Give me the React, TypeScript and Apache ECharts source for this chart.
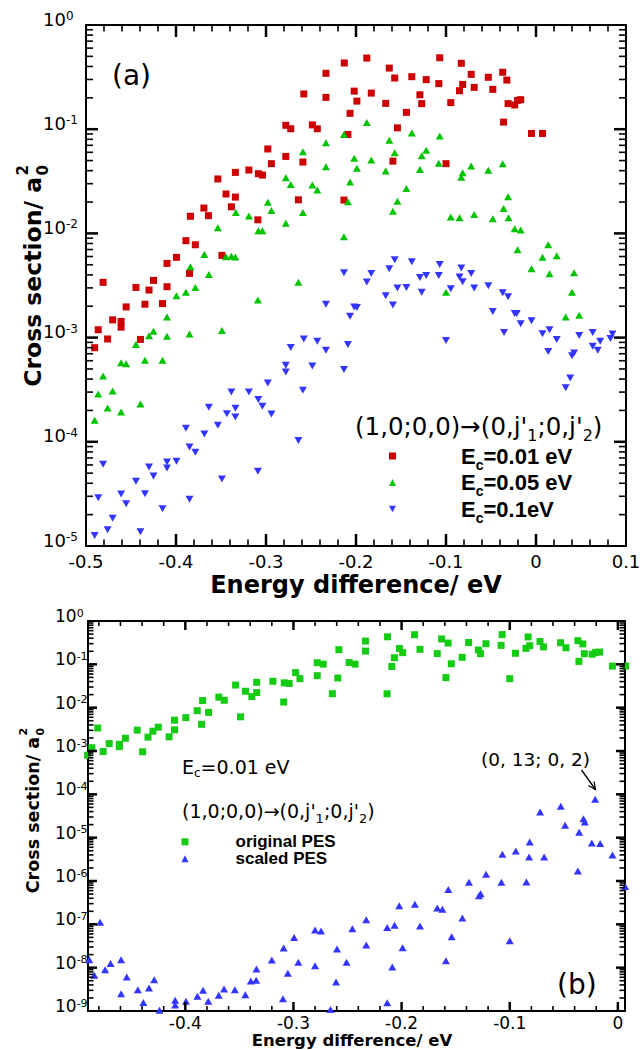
import React, { useEffect, useRef } from "react";
import * as echarts from "echarts";

// ---------- data: (energy difference / eV, cross section / a0^2) ----------
const ec001: [number, number][] = [
  [-0.4904, 8.0e-4], [-0.4864, 1.19e-3], [-0.481, 3.39e-3], [-0.476, 9.7e-4], [-0.4704, 1.48e-3],
  [-0.461, 1.43e-3], [-0.461, 1.26e-3], [-0.4554, 1.97e-3], [-0.4445, 3.03e-3], [-0.4395, 9.6e-4],
  [-0.4345, 2.09e-3], [-0.43, 2.86e-3], [-0.425, 3.54e-3], [-0.415, 2.12e-3], [-0.41, 3.08e-3],
  [-0.41, 5.15e-3], [-0.3995, 5.89e-3], [-0.389, 8.51e-3], [-0.385, 4.13e-3], [-0.384, 1.46e-2],
  [-0.3785, 7.78e-3], [-0.369, 1.75e-2], [-0.364, 1.48e-2], [-0.3535, 3.33e-2], [-0.349, 6.15e-3],
  [-0.3444, 2.39e-2], [-0.3385, 1.8e-2], [-0.334, 2.23e-2], [-0.334, 3.85e-2], [-0.319, 4.06e-2],
  [-0.309, 1.35e-2], [-0.3085, 3.74e-2], [-0.304, 3.63e-2], [-0.298, 6.46e-2], [-0.294, 4.67e-2],
  [-0.278, 0.109], [-0.278, 5.48e-2], [-0.2725, 0.101], [-0.264, 2.1e-2], [-0.259, 4.84e-2],
  [-0.258, 0.218], [-0.2485, 0.11], [-0.243, 0.101], [-0.2334, 0.344], [-0.2334, 0.202],
  [-0.2134, 2.09e-2], [-0.213, 0.432], [-0.209, 8.9e-2], [-0.2066, 0.142], [-0.202, 0.232],
  [-0.199, 0.186], [-0.188, 0.482], [-0.183, 0.222], [-0.167, 0.177], [-0.163, 0.386],
  [-0.159, 4.94e-2], [-0.157, 0.31], [-0.154, 0.103], [-0.144, 0.145], [-0.138, 0.319],
  [-0.129, 0.214], [-0.127, 0.176], [-0.122, 0.299], [-0.108, 0.274], [-0.107, 0.485],
  [-0.1, 4.67e-2], [-0.0947, 0.18], [-0.085, 0.234], [-0.083, 0.429], [-0.0815, 0.269],
  [-0.072, 0.336], [-0.0687, 0.252], [-0.053, 0.315], [-0.048, 0.241], [-0.037, 0.352],
  [-0.036, 0.117], [-0.0324, 0.296], [-0.031, 0.176], [-0.0237, 0.171], [-0.0205, 0.189],
  [-0.017, 0.192], [-0.005, 9.1e-2], [0.0072, 9.1e-2],
];

const ec005: [number, number][] = [
  [-0.4904, 1.61e-4], [-0.4864, 2.88e-4], [-0.481, 4.29e-4], [-0.476, 2.11e-4], [-0.4704, 3.08e-4],
  [-0.461, 1.93e-4], [-0.461, 5.75e-4], [-0.4554, 5.62e-4], [-0.4445, 8.57e-4], [-0.4395, 2.31e-4],
  [-0.4345, 6.05e-4], [-0.43, 1.04e-3], [-0.425, 1.15e-3], [-0.415, 6.05e-4], [-0.41, 1.58e-3],
  [-0.41, 1.03e-3], [-0.3995, 2.52e-3], [-0.389, 2.72e-3], [-0.385, 1.08e-3], [-0.384, 4.79e-3],
  [-0.3785, 3.03e-3], [-0.3685, 6.28e-3], [-0.3635, 4.04e-3], [-0.3535, 1.13e-2], [-0.349, 1.17e-3],
  [-0.3444, 5.97e-3], [-0.3385, 6.05e-3], [-0.334, 5.93e-3], [-0.3335, 1.59e-2], [-0.319, 1.47e-2],
  [-0.309, 2.29e-3], [-0.3085, 1.06e-2], [-0.304, 1.06e-2], [-0.298, 1.99e-2], [-0.294, 1.66e-2],
  [-0.278, 3.42e-2], [-0.278, 1.25e-2], [-0.2725, 2.95e-2], [-0.264, 3.39e-3], [-0.259, 6.08e-2],
  [-0.259, 1.59e-2], [-0.2485, 2.91e-2], [-0.243, 2.61e-2], [-0.2334, 7.41e-2], [-0.2334, 4.37e-2],
  [-0.2134, 8.9e-2], [-0.2134, 9.3e-3], [-0.209, 2.01e-2], [-0.2066, 3.11e-2], [-0.202, 5.25e-2],
  [-0.199, 4.21e-2], [-0.188, 0.116], [-0.183, 5.06e-2], [-0.167, 3.96e-2], [-0.163, 7.82e-2],
  [-0.159, 1.63e-2], [-0.157, 5.94e-2], [-0.154, 2.04e-2], [-0.144, 2.69e-2], [-0.138, 9.2e-2],
  [-0.129, 4.11e-2], [-0.127, 5.57e-2], [-0.122, 6.27e-2], [-0.108, 4.7e-2], [-0.107, 8.6e-2],
  [-0.1, 2.72e-3], [-0.0947, 1.44e-2], [-0.085, 1.41e-2], [-0.083, 3.45e-2], [-0.0815, 3.82e-2],
  [-0.072, 4.43e-2], [-0.0687, 1.52e-2], [-0.053, 4.03e-2], [-0.048, 1.38e-2], [-0.037, 4.67e-2],
  [-0.036, 1.73e-2], [-0.031, 2.25e-2], [-0.0305, 1.41e-2], [-0.0237, 1.11e-2], [-0.0205, 6.97e-3],
  [-0.017, 1.08e-2], [-0.005, 4.58e-3], [0.0072, 5.89e-3], [0.0136, 7.78e-3], [0.015, 4.1e-3],
  [0.023, 6.11e-3], [0.033, 1.58e-3], [0.04, 2.72e-3], [0.0423, 4.19e-3], [0.048, 1.64e-3],
];

const ec01: [number, number][] = [
  [-0.2134, 4.19e-3], [-0.188, 3.41e-3], [-0.183, 4.13e-3], [-0.167, 2.52e-3], [-0.163, 4.58e-3],
  [-0.157, 5.58e-3], [-0.154, 2.99e-3], [-0.144, 3.03e-3], [-0.138, 5.35e-3], [-0.129, 3.78e-3],
  [-0.127, 2.72e-3], [-0.122, 3.95e-3], [-0.108, 3.95e-3], [-0.107, 5.04e-3], [-0.0947, 2.94e-3],
  [-0.083, 4.65e-3], [-0.0815, 3.44e-3], [-0.085, 3.81e-3], [-0.072, 4.13e-3], [-0.0687, 2.99e-3],
  [-0.053, 3.15e-3], [-0.037, 2.69e-3], [-0.031, 2.47e-3],
  [-0.4904, 1.26e-5], [-0.481, 6.08e-5], [-0.4864, 2.91e-5], [-0.476, 1.43e-5], [-0.4704, 1.85e-5],
  [-0.461, 3.16e-5], [-0.4554, 2.55e-5], [-0.4445, 4.18e-5], [-0.4395, 1.37e-5], [-0.4345, 3.18e-5],
  [-0.43, 5.73e-5], [-0.425, 4.7e-5], [-0.415, 2.28e-5], [-0.41, 6.4e-5], [-0.41, 5.61e-5],
  [-0.3995, 6.5e-5], [-0.389, 1.35e-4], [-0.385, 8.91e-5], [-0.385, 2.81e-5], [-0.3785, 7.93e-5],
  [-0.3685, 1.19e-4], [-0.3635, 2.14e-4], [-0.3535, 1.44e-4], [-0.349, 4.4e-5], [-0.3435, 1.86e-4],
  [-0.3385, 3.01e-4], [-0.334, 2.1e-4], [-0.334, 1.73e-4], [-0.319, 3.01e-4], [-0.3085, 2.54e-4],
  [-0.304, 2.19e-4], [-0.309, 5.21e-5], [-0.298, 3.67e-4], [-0.294, 1.85e-4], [-0.278, 5.42e-4],
  [-0.278, 4.68e-4], [-0.2725, 8.02e-4], [-0.264, 1.03e-4], [-0.259, 3.12e-4], [-0.258, 9.7e-4],
  [-0.2485, 5.35e-4], [-0.243, 9.2e-4], [-0.2334, 7.55e-4], [-0.2334, 2.09e-3], [-0.2134, 4.93e-4],
  [-0.209, 8.6e-4], [-0.2066, 1.6e-3], [-0.202, 1.97e-3], [-0.199, 1.94e-3], [-0.159, 2.06e-3],
  [-0.1, 9.4e-4], [-0.048, 1.78e-3], [-0.0355, 1.12e-3], [-0.0237, 1.7e-3], [-0.0214, 1.7e-3],
  [-0.017, 1.36e-3], [-0.005, 1.45e-3], [0.0072, 1.09e-3], [0.0136, 7.35e-4], [0.015, 1.19e-3],
  [0.023, 9.6e-4], [0.033, 3.31e-4], [0.038, 4.1e-4], [0.04, 6.71e-4], [0.0423, 7.13e-4],
  [0.048, 1.05e-3], [0.063, 1.12e-3], [0.063, 8.26e-4], [0.0686, 7.55e-4], [0.0713, 9.2e-4],
  [0.0827, 9.8e-4], [0.085, 1.08e-3],
];

// panel (b): original PES is the Ec = 0.01 eV set of panel (a)
const originalPES = ec001;
const scaledPES: [number, number][] = [
  [-0.4888, 1.53e-8], [-0.4788, 1.11e-7], [-0.4842, 6.65e-9], [-0.4742, 9.0e-9], [-0.4691, 1.24e-8],
  [-0.4594, 1.53e-8], [-0.4594, 2.51e-9], [-0.4542, 6.1e-9], [-0.4439, 3.1e-9], [-0.4388, 1.58e-9],
  [-0.4336, 3.4e-9], [-0.4288, 5.28e-9], [-0.4239, 1.04e-9], [-0.4094, 1.76e-9], [-0.4094, 1.37e-9],
  [-0.3994, 1.67e-9], [-0.3888, 2.18e-9], [-0.3836, 3.0e-9], [-0.3788, 1.67e-9], [-0.3691, 2.3e-9],
  [-0.3642, 3.22e-9], [-0.3542, 3.1e-9], [-0.3445, 2.38e-9], [-0.3394, 4.92e-9], [-0.3345, 5.1e-9],
  [-0.3342, 9.3e-9], [-0.32, 1.5e-8], [-0.3097, 1.93e-9], [-0.3091, 2.84e-8], [-0.3052, 7.4e-9],
  [-0.2994, 5.0e-8], [-0.2955, 1.33e-8], [-0.28, 7.4e-8], [-0.28, 1.11e-8], [-0.2745, 7.0e-8],
  [-0.2658, 1.09e-9], [-0.2606, 4.67e-9], [-0.2597, 2.7e-8], [-0.2509, 1.33e-8], [-0.2455, 7.9e-8],
  [-0.2327, 1.28e-7], [-0.2327, 3.33e-8], [-0.2133, 8.5e-8], [-0.2086, 1.04e-8], [-0.2065, 9.5e-8],
  [-0.2022, 2.7e-7], [-0.1991, 2.9e-8], [-0.2133, 1.56e-9], [-0.1877, 2.9e-7], [-0.183, 9.2e-8],
  [-0.167, 2.38e-7], [-0.1623, 2.22e-7], [-0.1568, 6.4e-7], [-0.1537, 5.2e-8], [-0.159, 1.45e-8],
  [-0.1438, 1.4e-7], [-0.1377, 9.3e-7], [-0.1284, 4.59e-7], [-0.1269, 5.1e-7], [-0.1219, 1.43e-6],
  [-0.1077, 9.3e-7], [-0.1068, 4.12e-6], [-0.1, 4.2e-8], [-0.0944, 4.92e-6], [-0.0846, 9.5e-7],
  [-0.0821, 3.58e-6], [-0.0815, 7.9e-6], [-0.0719, 3.91e-5], [-0.0682, 3.58e-6], [-0.0528, 5.28e-5],
  [-0.0488, 1.93e-5], [-0.037, 1.7e-6], [-0.0358, 1.33e-5], [-0.0318, 2.74e-5], [-0.0306, 2.3e-5],
  [-0.0241, 7.5e-6], [-0.021, 7.7e-5], [-0.0164, 7.3e-6], [-0.005, 3.98e-6], [0.0068, 7.5e-7],
];

// tick positions
const xMajorA = [-0.4, -0.3, -0.2, -0.1, 0];
const xMinorA = [
  -0.48, -0.46, -0.44, -0.42, -0.38, -0.36, -0.34, -0.32, -0.28, -0.26, -0.24, -0.22,
  -0.18, -0.16, -0.14, -0.12, -0.08, -0.06, -0.04, -0.02, 0.02, 0.04, 0.06, 0.08,
];
const xMajorB = [-0.4, -0.3, -0.2, -0.1, 0];
const xMinorB = [
  -0.48, -0.46, -0.44, -0.42, -0.38, -0.36, -0.34, -0.32, -0.28, -0.26,
  -0.24, -0.22, -0.18, -0.16, -0.14, -0.12, -0.08, -0.06, -0.04, -0.02,
];

// ---------- styling ----------
const BLACK = "#000";
const RED = "#cc0000";
const GREEN_A = "#00c400";
const GREEN_B = "#14cc14";
const BLUE = "#3434ff";
const DJ = "DejaVu Sans";
const AR = "Liberation Sans, Arial, sans-serif";

const X_RANGE_A: [number, number] = [-0.5, 0.1];
const X_RANGE_B: [number, number] = [-0.49, 0.0066];
const Y_RANGE_A: [number, number] = [1e-5, 1];
const Y_RANGE_B: [number, number] = [1e-9, 1];
const GRID_A = { left: 86, top: 25, width: 540, height: 521 };
const GRID_B = { left: 88, top: 621, width: 537, height: 390 };

function decades(lo: number): number[] {
  const out: number[] = [];
  for (let n = lo + 1; n < 0; n++) out.push(Number(`1e${n}`));
  return out;
}
function logMinor(lo: number): number[] {
  const out: number[] = [];
  for (let n = lo; n < 0; n++) for (let k = 2; k <= 9; k++) out.push(Number(`${k}e${n}`));
  return out;
}

const powLabel = (v: number) => `{b|10}{s|${Math.round(Math.log10(v))}}`;

// inside ticks on all four sides, drawn as thin rect symbols placed by the axes' own scales
function tickSeries(xi: number, yi: number, xr: [number, number], yr: [number, number],
  xMaj: number[], xMin: number[], yMaj: number[], yMin: number[], lens: number[]): any[] {
  const wMaj = 2.5, wMin = 1.6;
  const out: any[] = [];
  const mk = (data: number[][], size: number[], offset: number[]) =>
    out.push({
      type: "scatter", xAxisIndex: xi, yAxisIndex: yi, data, symbol: "rect",
      symbolSize: size, symbolOffset: offset, itemStyle: { color: BLACK, opacity: 1 },
      clip: false, silent: true, z: 4, legendHoverLink: false,
    });
  mk(xMaj.map((v) => [v, yr[0]]), [wMaj, lens[0]], [0, -lens[0] / 2]);
  mk(xMaj.map((v) => [v, yr[1]]), [wMaj, lens[0]], [0, lens[0] / 2]);
  mk(xMin.map((v) => [v, yr[0]]), [wMin, lens[1]], [0, -lens[1] / 2]);
  mk(xMin.map((v) => [v, yr[1]]), [wMin, lens[1]], [0, lens[1] / 2]);
  mk(yMaj.map((v) => [xr[0], v]), [lens[2], wMaj], [lens[2] / 2, 0]);
  mk(yMaj.map((v) => [xr[1], v]), [lens[2], wMaj], [-lens[2] / 2, 0]);
  mk(yMin.map((v) => [xr[0], v]), [lens[3], wMin], [lens[3] / 2, 0]);
  mk(yMin.map((v) => [xr[1], v]), [lens[3], wMin], [-lens[3] / 2, 0]);
  return out;
}

function buildOption(): any {
  const hidden = { show: false };
  const axLine = { show: true, onZero: false, lineStyle: { color: BLACK, width: 2 } };

  const richA = {
    b: { fontFamily: DJ, fontSize: 18, lineHeight: 30, verticalAlign: "top", color: BLACK },
    s: { fontFamily: DJ, fontSize: 12, lineHeight: 12, verticalAlign: "top", color: BLACK },
  };
  const richB = {
    b: { fontFamily: DJ, fontSize: 17, lineHeight: 27, verticalAlign: "top", color: BLACK },
    s: { fontFamily: DJ, fontSize: 11, lineHeight: 11, verticalAlign: "top", color: BLACK },
  };

  const scatter = (name: string, xi: number, yi: number, data: [number, number][], symbol: string,
    size: any, color: string, rotate = 0) => ({
    type: "scatter", name, xAxisIndex: xi, yAxisIndex: yi, data, symbol, symbolSize: size,
    symbolRotate: rotate, itemStyle: { color, opacity: 1 }, clip: false, silent: true, z: 3,
  });

  const legendA = {
    orient: "vertical", left: 389, top: 445, padding: 0, itemGap: 0, itemWidth: 7, itemHeight: 7,
    selectedMode: false, symbolRotate: 0,
    data: [
      { name: "Ec=0.01 eV", icon: "rect" },
      { name: "Ec=0.05 eV", icon: "triangle" },
      { name: "Ec=0.1eV", icon: "path://M0,0L10,0L5,9Z" },
    ],
    formatter: (n: string) => `{p|E}{c|c}{t|${n.slice(2)}}`,
    textStyle: {
      rich: {
        p: { fontFamily: AR, fontWeight: "bold", fontSize: 22, lineHeight: 22, verticalAlign: "top", padding: [0, 0, 0, 60], color: BLACK },
        t: { fontFamily: AR, fontWeight: "bold", fontSize: 22, lineHeight: 22, verticalAlign: "top", color: BLACK },
        c: { fontFamily: AR, fontWeight: "bold", fontSize: 14, lineHeight: 14, verticalAlign: "top", padding: [12.5, 0, 0, 0], color: BLACK },
      },
    },
  };
  const legendB = {
    orient: "vertical", left: 181.5, top: 833.3, padding: 0, itemGap: 0, itemWidth: 7, itemHeight: 7,
    selectedMode: false, symbolRotate: 0,
    data: [{ name: "original PES", icon: "rect" }, { name: "scaled PES", icon: "triangle" }],
    formatter: (n: string) => `{p|${n}}`,
    textStyle: {
      rich: { p: { fontFamily: AR, fontWeight: "bold", fontSize: 17, lineHeight: 20, padding: [0, 0, 0, 42], color: BLACK } },
    },
  };

  const txt = (x: number, y: number, text: string, size: number, extra: any = {}) => ({
    type: "text", x, y, silent: true,
    style: { text, fill: BLACK, fontFamily: DJ, fontSize: size, align: "left", verticalAlign: "middle", ...extra },
  });
  const subRich = (main: number, sub: number, lower: number) => ({
    m: { fontFamily: DJ, fontSize: main, lineHeight: main, verticalAlign: "top", fill: BLACK },
    s: {
      fontFamily: DJ, fontSize: sub, lineHeight: sub, verticalAlign: "top",
      padding: [lower + main / 2 - sub / 2, 0, 0, 0], fill: BLACK,
    },
  });
  const richText = (x: number, y: number, text: string, rich: any) => ({
    type: "text", x, y, silent: true, style: { text, rich, align: "left", verticalAlign: "middle" },
  });
  const yTitle = (x: number, y: number, size: number, small: number, subOff: number, supOff: number) => ({
    type: "group", x, y, rotation: Math.PI / 2, silent: true,
    children: [
      { type: "text", x: 0, y: 0, style: { text: "Cross section/ a", fill: BLACK, fontFamily: DJ, fontWeight: "bold", fontSize: size, align: "right", verticalAlign: "middle" } },
      { type: "text", x: 1.5, y: subOff, style: { text: "0", fill: BLACK, fontFamily: DJ, fontWeight: "bold", fontSize: small, align: "left", verticalAlign: "middle" } },
      { type: "text", x: 1.5, y: supOff, style: { text: "2", fill: BLACK, fontFamily: DJ, fontWeight: "bold", fontSize: small, align: "left", verticalAlign: "middle" } },
    ],
  });
  const transition = "{m|(1,0;0,0)\u2192(0,j'}{s|1}{m|;0,j'}{s|2}{m|)}";

  const graphic = [
    txt(112, 75, "(a)", 28),
    richText(355, 426.4, transition, subRich(24.5, 16, 9)),
    txt(356, 585, "Energy difference/ eV", 24, { fontWeight: "bold", align: "center" }),
    yTitle(33, 177, 23.5, 15, 9.5, -10.5),
    richText(182, 766.5, "{m|E}{s|c}{m|=0.01 eV}", subRich(19, 12, 6.5)),
    richText(182, 811, transition, subRich(19, 13, 7)),
    txt(481, 759, "(0, 13; 0, 2)", 18.5),
    { type: "line", silent: true, shape: { x1: 581.5, y1: 770, x2: 595.5, y2: 789.5 }, style: { stroke: BLACK, lineWidth: 1.3 } },
    { type: "polyline", silent: true, shape: { points: [[594, 781.5], [595.5, 789.5], [588.5, 785.5]] }, style: { stroke: BLACK, lineWidth: 1.3, fill: null } },
    txt(557, 984, "(b)", 28),
    txt(352, 1040.5, "Energy difference/ eV", 16.5, { fontWeight: "bold", align: "center" }),
    yTitle(32.5, 737, 17.5, 11, 7.5, -9),
  ];

  const gridStyle = { show: false, containLabel: false, outerBoundsMode: "none" };

  return {
    animation: false,
    backgroundColor: "#fff",
    grid: [{ ...GRID_A, ...gridStyle }, { ...GRID_B, ...gridStyle }],
    xAxis: [
      {
        type: "value", gridIndex: 0, position: "bottom", min: X_RANGE_A[0], max: X_RANGE_A[1], interval: 0.1,
        axisLine: axLine, axisTick: hidden, minorTick: hidden, splitLine: hidden,
        axisLabel: { color: BLACK, fontFamily: DJ, fontSize: 18, margin: 6 },
      },
      {
        type: "value", gridIndex: 0, position: "top", min: X_RANGE_A[0], max: X_RANGE_A[1], interval: 0.1,
        axisLine: axLine, axisTick: hidden, axisLabel: hidden, splitLine: hidden,
      },
      {
        type: "value", gridIndex: 1, position: "bottom", min: X_RANGE_B[0], max: X_RANGE_B[1],
        axisLine: axLine, axisTick: hidden, minorTick: hidden, splitLine: hidden,
        axisLabel: { color: BLACK, fontFamily: DJ, fontSize: 17, margin: 3, customValues: xMajorB },
      },
      {
        type: "value", gridIndex: 1, position: "top", min: X_RANGE_B[0], max: X_RANGE_B[1],
        axisLine: axLine, axisTick: hidden, axisLabel: hidden, splitLine: hidden,
      },
    ],
    yAxis: [
      {
        type: "log", logBase: 10, gridIndex: 0, position: "left", min: Y_RANGE_A[0], max: Y_RANGE_A[1], splitNumber: 5,
        axisLine: axLine, axisTick: hidden, minorTick: hidden, splitLine: hidden,
        axisLabel: { align: "left", margin: 43, formatter: powLabel, rich: richA },
      },
      {
        type: "log", logBase: 10, gridIndex: 0, position: "right", min: Y_RANGE_A[0], max: Y_RANGE_A[1], splitNumber: 5,
        axisLine: axLine, axisTick: hidden, axisLabel: hidden, splitLine: hidden,
      },
      {
        type: "log", logBase: 10, gridIndex: 1, position: "left", min: Y_RANGE_B[0], max: Y_RANGE_B[1], splitNumber: 5,
        axisLine: axLine, axisTick: hidden, minorTick: hidden, splitLine: hidden,
        axisLabel: { align: "left", margin: 33, formatter: powLabel, rich: richB },
      },
      {
        type: "log", logBase: 10, gridIndex: 1, position: "right", min: Y_RANGE_B[0], max: Y_RANGE_B[1], splitNumber: 5,
        axisLine: axLine, axisTick: hidden, axisLabel: hidden, splitLine: hidden,
      },
    ],
    legend: [legendA, legendB],
    series: [
      scatter("Ec=0.01 eV", 0, 0, ec001, "rect", 7, RED),
      scatter("Ec=0.05 eV", 0, 0, ec005, "triangle", [8, 7], GREEN_A),
      scatter("Ec=0.1eV", 0, 0, ec01, "triangle", [8, 7], BLUE, 180),
      scatter("original PES", 2, 2, originalPES, "rect", 7, GREEN_B),
      scatter("scaled PES", 2, 2, scaledPES, "triangle", [8, 7], BLUE),
      ...tickSeries(0, 0, X_RANGE_A, Y_RANGE_A, xMajorA, xMinorA, decades(-5), logMinor(-5), [12, 6.5, 12, 7]),
      ...tickSeries(2, 2, X_RANGE_B, Y_RANGE_B, xMajorB, xMinorB, decades(-9), logMinor(-9), [9, 5, 9, 5.5]),
    ],
    graphic,
  };
}

export default function App() {
  const ref = useRef<HTMLDivElement>(null);
  useEffect(() => {
    if (!ref.current) return;
    const chart = echarts.init(ref.current, undefined, { renderer: "svg" });
    chart.setOption(buildOption());
    return () => chart.dispose();
  }, []);
  return (
    <div
      ref={ref}
      style={{ position: "absolute", left: 0, top: 0, width: 640, height: 1050, background: "#fff" }}
    />
  );
}
